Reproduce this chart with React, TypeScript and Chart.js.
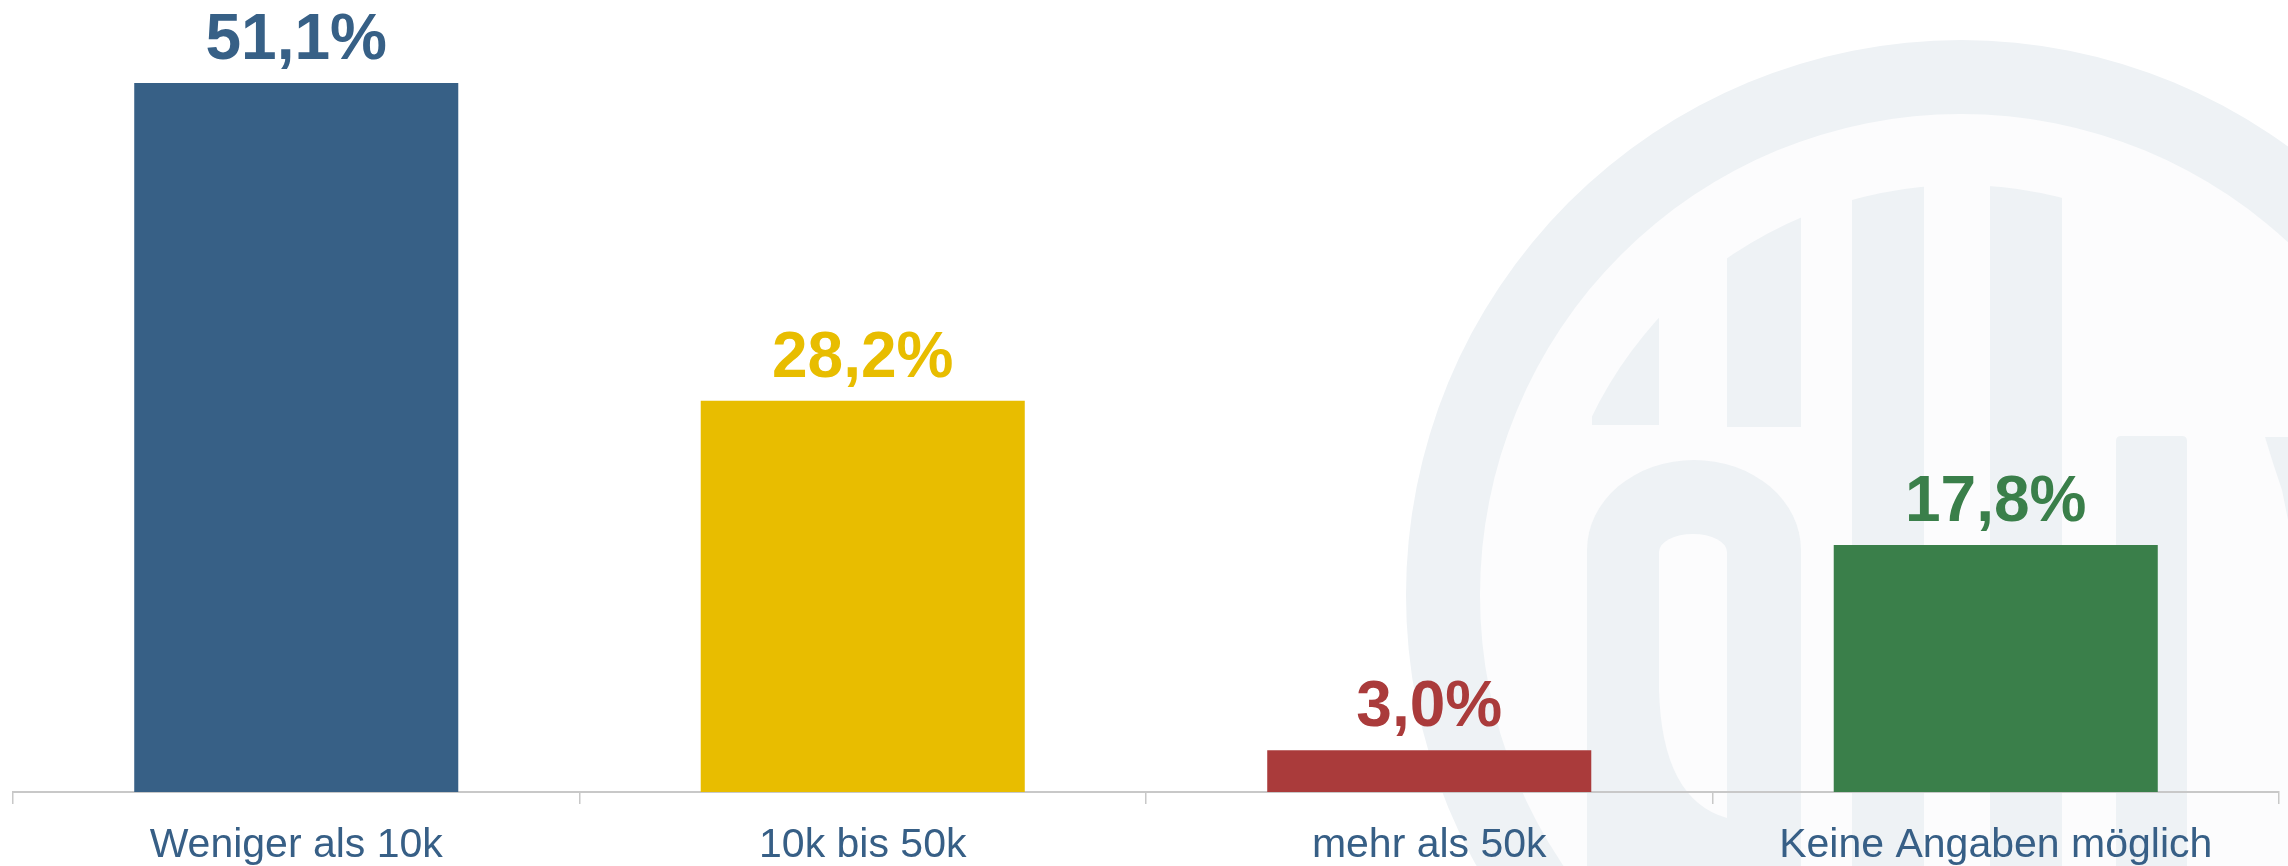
import React, { useEffect, useRef } from "react";
import { Chart, registerables } from "chart.js";

Chart.register(...registerables);

const categories = ["Weniger als 10k", "10k bis 50k", "mehr als 50k", "Keine Angaben möglich"];
const values = [51.1, 28.2, 3.0, 17.8];
const barColors = ["#376086", "#E8BD00", "#AA3B3B", "#3A7F4A"];
const yMax = 55;

const FONT = '"Liberation Sans", Arial, sans-serif';
const WM = "#eef2f5";
const WM_INNER = "#fcfcfd";

function roundTopRect(ctx: CanvasRenderingContext2D, x: number, y: number, w: number, h: number, rad: number) {
  ctx.beginPath();
  ctx.moveTo(x, y + h);
  ctx.lineTo(x, y + rad);
  ctx.quadraticCurveTo(x, y, x + rad, y);
  ctx.lineTo(x + w - rad, y);
  ctx.quadraticCurveTo(x + w, y, x + w, y + rad);
  ctx.lineTo(x + w, y + h);
  ctx.closePath();
  ctx.fill();
}

const watermarkPlugin = {
  id: "watermark",
  beforeDraw(chart: any) {
    const ctx = chart.ctx as CanvasRenderingContext2D;
    const W = chart.width;
    const H = chart.height;
    ctx.save();
    ctx.fillStyle = "#ffffff";
    ctx.fillRect(0, 0, W, H);
    const cx = 1961, cy = 595, R = 555, r = 481, rc = 410;
    // ring
    ctx.fillStyle = WM;
    ctx.beginPath();
    ctx.arc(cx, cy, R, 0, Math.PI * 2);
    ctx.fill();
    ctx.fillStyle = WM_INNER;
    ctx.beginPath();
    ctx.arc(cx, cy, r, 0, Math.PI * 2);
    ctx.fill();

    // bars clipped to an inner circle
    ctx.save();
    ctx.beginPath();
    ctx.arc(cx, cy, rc, 0, Math.PI * 2);
    ctx.clip();
    ctx.fillStyle = WM;
    ctx.fillRect(1592, 0, 67, 425);
    ctx.fillRect(1727, 0, 74, 427);
    ctx.fillRect(1852, 0, 72, H);
    ctx.fillRect(1990, 0, 72, H);
    ctx.restore();

    ctx.fillStyle = WM;
    roundTopRect(ctx, 2116, 436, 71, H - 436, 5);
    // right diagonal piece
    ctx.beginPath();
    ctx.moveTo(2265, 437);
    ctx.lineTo(2288, 437);
    ctx.lineTo(2288, 520);
    ctx.lineTo(2282, 490);
    ctx.lineTo(2273, 463);
    ctx.closePath();
    ctx.fill();

    // "o" shape
    ctx.beginPath();
    ctx.moveTo(1587, H + 10);
    ctx.lineTo(1587, 550);
    ctx.ellipse(1694, 550, 107, 90, 0, Math.PI, Math.PI * 2);
    ctx.lineTo(1801, H + 10);
    ctx.closePath();
    ctx.fill();
    // counter
    ctx.fillStyle = WM_INNER;
    ctx.beginPath();
    ctx.moveTo(1659, 690);
    ctx.lineTo(1659, 552);
    ctx.ellipse(1693, 552, 34, 18, 0, Math.PI, Math.PI * 2);
    ctx.lineTo(1727, 818);
    ctx.quadraticCurveTo(1662, 800, 1659, 690);
    ctx.closePath();
    ctx.fill();
    ctx.restore();
  },
};

const valueLabelPlugin = {
  id: "valueLabels",
  afterDatasetsDraw(chart: any) {
    const ctx = chart.ctx as CanvasRenderingContext2D;
    const meta = chart.getDatasetMeta(0);
    ctx.save();
    ctx.font = `bold 64px ${FONT}`;
    ctx.textAlign = "center";
    ctx.textBaseline = "alphabetic";
    meta.data.forEach((bar: any, i: number) => {
      ctx.fillStyle = barColors[i];
      const txt = values[i].toFixed(1).replace(".", ",") + "%";
      ctx.fillText(txt, bar.x, bar.y - 24);
    });
    ctx.restore();
  },
};

export default function App() {
  const ref = useRef<HTMLCanvasElement | null>(null);
  useEffect(() => {
    if (!ref.current) return;
    const chart = new Chart(ref.current, {
      type: "bar",
      data: {
        labels: categories,
        datasets: [
          {
            data: values,
            backgroundColor: barColors,
            borderWidth: 0,
            barPercentage: 0.572,
            categoryPercentage: 1,
          },
        ],
      },
      options: {
        animation: false,
        responsive: false,
        maintainAspectRatio: false,
        layout: { padding: { left: 13, right: 9, top: 29, bottom: -21 } },
        plugins: {
          legend: { display: false },
          tooltip: { enabled: false },
          title: { display: false },
        },
        scales: {
          x: {
            grid: {
              display: true,
              drawOnChartArea: false,
              drawTicks: true,
              tickLength: 12,
              color: "#c8c8c8",
              lineWidth: 1.5,
              offset: true,
            },
            border: { display: true, color: "#c8c8c8", width: 2 },
            ticks: {
              color: "#375f86",
              font: { family: FONT, size: 41, lineHeight: 1.1 },
              padding: 19,
              maxRotation: 0,
              autoSkip: false,
            },
          },
          y: {
            display: false,
            min: 0,
            max: yMax,
          },
        },
      },
      plugins: [watermarkPlugin, valueLabelPlugin],
    });
    return () => chart.destroy();
  }, []);
  return (
    <div style={{ position: "fixed", left: 0, top: 0, width: 2288, height: 866 }}>
      <canvas ref={ref} width={2288} height={866} style={{ display: "block" }} />
    </div>
  );
}
